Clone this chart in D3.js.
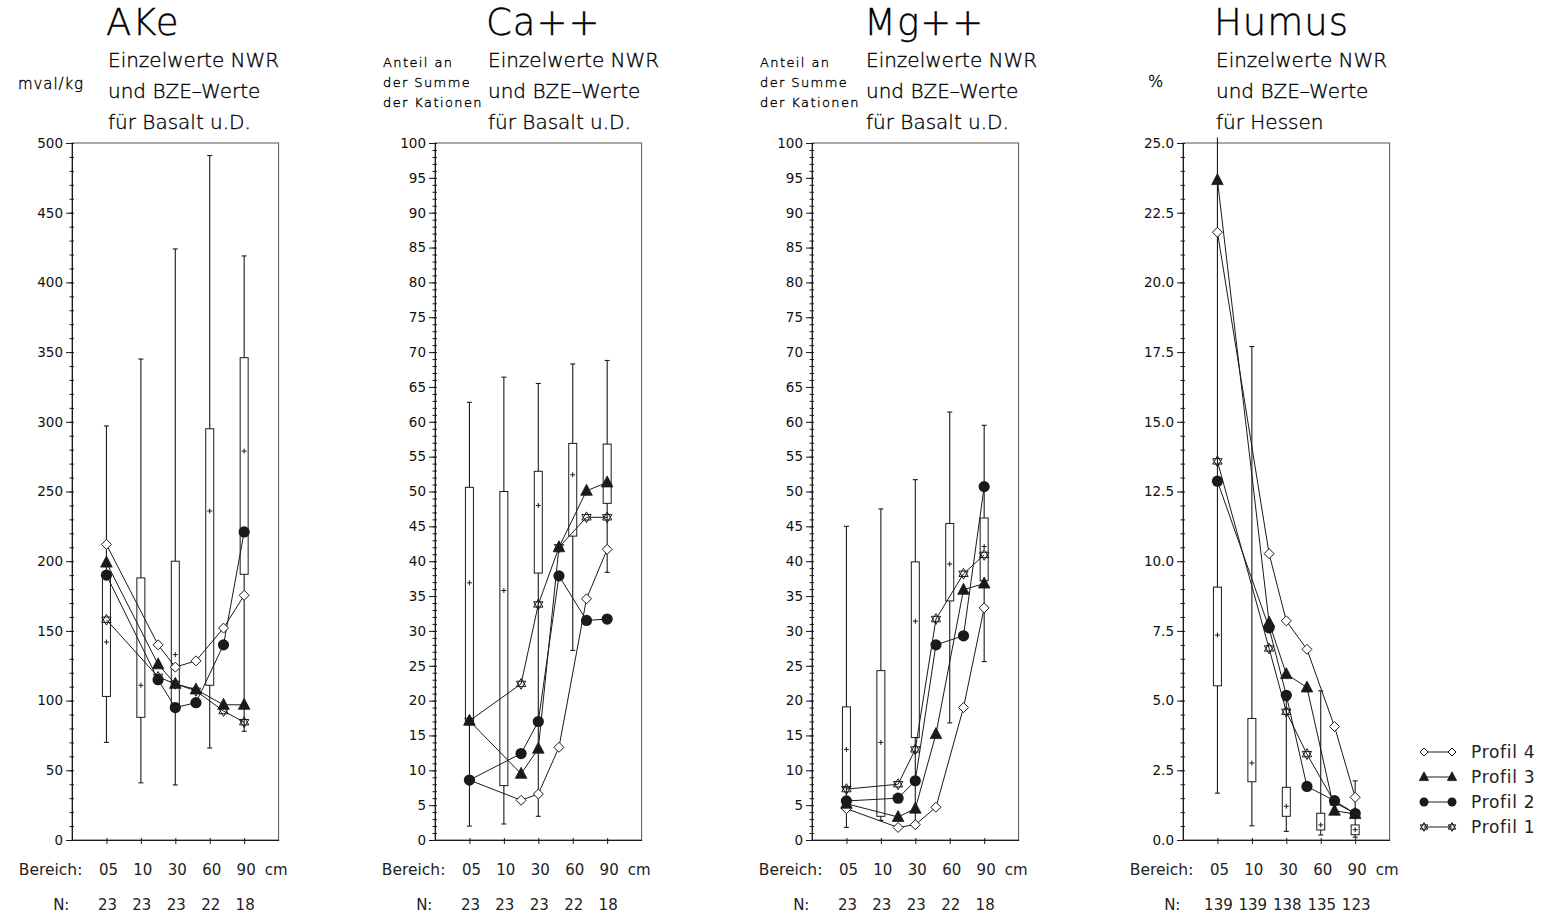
<!DOCTYPE html>
<html><head><meta charset="utf-8">
<script src="https://cdn.jsdelivr.net/npm/d3@7"></script>
<style>
html,body{margin:0;padding:0;background:#fff;}
svg{display:block;}
text{font-family:"DejaVu Sans","Liberation Sans",sans-serif;fill:#111;}
.thin{font-weight:200;fill:#000;stroke:#000;stroke-width:0.35px;}
.reg{font-weight:normal;fill:#222;}
</style></head>
<body>
<svg id="chart" width="1559" height="915"></svg>
<script>
// ---------- DATA ----------
const categories = ["05", "10", "30", "60", "90"];
const categoryPos = [1, 2, 3, 4, 5];
const profilePos = [1, 2.5, 3, 3.6, 4.4, 5];
const profileNames = ["Profil 4", "Profil 3", "Profil 2", "Profil 1"];

// AKe (mval/kg)
const akeLow  = [70, 41, 39.5, 66, 78];
const akeQ1   = [103, 88, 96, 111, 190.6];
const akeMed  = [142, 111, 133, 236, 279];
const akeQ3   = [189, 188, 200, 295, 346];
const akeHigh = [297, 345, 424, 491, 419];
const akeN    = [23, 23, 23, 22, 18];
const akeP4 = [212, 140, 124, 128.5, 152, 175.5];
const akeP3 = [199, 126, 112, 108, 97, 97];
const akeP2 = [190, 115, 95, 98.5, 140, 221];
const akeP1 = [158, 117, 112, 107, 92.5, 84.5];
const akeTicks = [0, 50, 100, 150, 200, 250, 300, 350, 400, 450, 500];

// Ca++ (Anteil an der Summe der Kationen)
const caLow  = [2, 2.3, 3.4, 27.2, 38.4];
const caQ1   = [17, 7.8, 38.3, 43.6, 48.3];
const caMed  = [36.9, 35.8, 48, 52.4, 51];
const caQ3   = [50.6, 50, 52.9, 56.9, 56.8];
const caHigh = [62.8, 66.4, 65.5, 68.3, 68.8];
const caN    = [23, 23, 23, 22, 18];
const caP4 = [8.6, 5.7, 6.6, 13.3, 34.6, 41.7];
const caP3 = [17.1, 9.5, 13.1, 42, 50.1, 51.3];
const caP2 = [8.6, 12.4, 17, 37.9, 31.5, 31.7];
const caP1 = [17.1, 22.4, 33.8, 42, 46.3, 46.3];
const pctTicks = [0, 5, 10, 15, 20, 25, 30, 35, 40, 45, 50, 55, 60, 65, 70, 75, 80, 85, 90, 95, 100];

// Mg++
const mgLow  = [1.8, 2.8, 2, 16.8, 25.6];
const mgQ1   = [7.5, 3.4, 14.7, 34.3, 37.2];
const mgMed  = [13, 14, 31.4, 39.6, 42.1];
const mgQ3   = [19.1, 24.3, 39.9, 45.4, 46.2];
const mgHigh = [45, 47.5, 51.7, 61.4, 59.5];
const mgN    = [23, 23, 23, 22, 18];
const mgP4 = [4.5, 1.8, 2.2, 4.7, 19, 33.3];
const mgP3 = [5.2, 3.3, 4.5, 15.2, 35.9, 36.8];
const mgP2 = [5.6, 6, 8.5, 28, 29.3, 50.7];
const mgP1 = [7.3, 8, 13, 31.7, 38.2, 40.9];

// Humus (%)
const huLow  = [1.68, 0.51, 0.31, 0.18, 0.1];
const huQ1   = [5.53, 2.09, 0.85, 0.36, 0.19];
const huMed  = [7.35, 2.76, 1.21, 0.54, 0.37];
const huQ3   = [9.07, 4.36, 1.89, 0.96, 0.54];
const huHigh = [25.2, 17.7, 5.0, 5.35, 2.12];
const huN    = [139, 139, 138, 135, 123];
const huP4 = [21.8, 10.27, 7.86, 6.84, 4.07, 1.53];
const huP3 = [23.67, 7.8, 5.95, 5.47, 1.05, 0.93];
const huP2 = [12.87, 7.61, 5.19, 1.92, 1.41, 0.95];
const huP1 = [13.58, 6.87, 4.6, 3.08, 1.35, 0.95];
const huTicks = [0, 2.5, 5, 7.5, 10, 12.5, 15, 17.5, 20, 22.5, 25];

const subtitleBasalt = ["Einzelwerte NWR", "und BZE\u2013Werte", "f\u00fcr Basalt u.D."];
const subtitleHessen = ["Einzelwerte NWR", "und BZE\u2013Werte", "f\u00fcr Hessen"];

// ---------- LAYOUT ----------
const panels = [
  {title: "AKe", sub: subtitleBasalt, unit: ["mval/kg"], unitSize: 15, unitSp: 0.9, unitX: 18, unitY: [89],
   left: 72, titleX: 108, max: 500, ticks: akeTicks, minorStep: 10, fmt: d3.format("d"),
   low: akeLow, q1: akeQ1, med: akeMed, q3: akeQ3, high: akeHigh, n: akeN,
   profiles: [akeP4, akeP3, akeP2, akeP1]},
  {title: "Ca++", sub: subtitleBasalt, unit: ["Anteil an", "der Summe", "der Kationen"], unitSize: 13, unitSp: 1.4, unitX: 383, unitY: [67, 87, 107],
   left: 435, titleX: 488, max: 100, ticks: pctTicks, minorStep: 1, fmt: d3.format("d"),
   low: caLow, q1: caQ1, med: caMed, q3: caQ3, high: caHigh, n: caN,
   profiles: [caP4, caP3, caP2, caP1]},
  {title: "Mg++", sub: subtitleBasalt, unit: ["Anteil an", "der Summe", "der Kationen"], unitSize: 13, unitSp: 1.4, unitX: 760, unitY: [67, 87, 107],
   left: 812, titleX: 866, max: 100, ticks: pctTicks, minorStep: 1, fmt: d3.format("d"),
   low: mgLow, q1: mgQ1, med: mgMed, q3: mgQ3, high: mgHigh, n: mgN,
   profiles: [mgP4, mgP3, mgP2, mgP1]},
  {title: "Humus", sub: subtitleHessen, unit: ["%"], unitSize: 16, unitSp: 0, unitX: 1148, unitY: [87],
   left: 1183, titleX: 1216, max: 25, ticks: huTicks, minorStep: 0.5, fmt: d3.format(".1f"),
   low: huLow, q1: huQ1, med: huMed, q3: huQ3, high: huHigh, n: huN,
   profiles: [huP4, huP3, huP2, huP1]}
];
const plotW = 206.6, plotTop = 143, plotBottom = 840;

const svg = d3.select("#chart");
const ink = "#1a1a1a";

// marker symbols
function drawMarker(g, type, x, y, s) {
  s = s || 1;
  if (type === 0) { // open diamond
    g.append("path").attr("d", `M${x},${y-5*s}L${x+5*s},${y}L${x},${y+5*s}L${x-5*s},${y}Z`)
      .attr("fill", "#fff").attr("stroke", ink).attr("stroke-width", 1);
  } else if (type === 1) { // filled triangle
    g.append("path").attr("d", `M${x},${y-6.5*s}L${x+5.8*s},${y+4.5*s}L${x-5.8*s},${y+4.5*s}Z`)
      .attr("fill", ink).attr("stroke", ink).attr("stroke-width", 0.8);
  } else if (type === 2) { // filled circle
    g.append("circle").attr("cx", x).attr("cy", y).attr("r", 5.6*s).attr("fill", ink);
  } else { // star of david, open
    const r = 5.4*s;
    const pts = a => d3.range(3).map(i => {
      const t = (a + i*120) * Math.PI/180;
      return [x + r*Math.sin(t), y - r*Math.cos(t)];
    });
    const tri = p => "M" + p.map(q => q.join(",")).join("L") + "Z";
    g.append("path").attr("d", tri(pts(0)) + tri(pts(60)))
      .attr("fill", "none").attr("stroke", ink).attr("stroke-width", 1);
  }
}

panels.forEach(p => {
  const g = svg.append("g");
  const x = d3.scaleLinear().domain([0, 6]).range([p.left, p.left + plotW]);
  const y = d3.scaleLinear().domain([0, p.max]).range([plotBottom, plotTop]);

  // titles
  g.append("text").attr("class", "thin").attr("x", p.titleX - 2).attr("y", 35).attr("font-size", 37)
    .attr("letter-spacing", 1).text(p.title);
  p.sub.forEach((t, i) => g.append("text").attr("class", "thin").attr("x", p.titleX).attr("y", 67 + i*31)
    .attr("font-size", 20).text(t));
  p.unit.forEach((t, i) => g.append("text").attr("class", "thin").attr("x", p.unitX).attr("y", p.unitY[i])
    .attr("font-size", p.unitSize).attr("letter-spacing", p.unitSp).text(t));

  // frame
  g.append("rect").attr("x", x(0)).attr("y", y(p.max)).attr("width", x(6) - x(0))
    .attr("height", y(0) - y(p.max)).attr("fill", "none").attr("stroke", "#555").attr("stroke-width", 1);

  // y axis minor ticks
  const minor = d3.range(0, p.max + p.minorStep/2, p.minorStep);
  const yMinor = g.append("g").attr("transform", `translate(${x(0)},0)`)
    .call(d3.axisLeft(y).tickValues(minor).tickSize(2.5).tickFormat(""));
  yMinor.select(".domain").remove();
  yMinor.selectAll("line").attr("stroke", ink);
  const yMinor2 = g.append("g").attr("transform", `translate(${x(0)},0)`)
    .call(d3.axisRight(y).tickValues(minor).tickSize(2).tickFormat(""));
  yMinor2.select(".domain").remove();
  yMinor2.selectAll("line").attr("stroke", ink);
  // y axis major
  const yAx = g.append("g").attr("transform", `translate(${x(0)},0)`)
    .call(d3.axisLeft(y).tickValues(p.ticks).tickSize(6).tickSizeOuter(0).tickPadding(3).tickFormat(p.fmt));
  yAx.select(".domain").attr("stroke", ink);
  yAx.selectAll("line").attr("stroke", ink);
  yAx.selectAll("text").attr("font-size", 13.5).attr("fill", "#222")
    .attr("font-family", "DejaVu Sans, sans-serif");

  // x axis ticks
  const xAx = g.append("g").attr("transform", `translate(0,${y(0)})`)
    .call(d3.axisBottom(x).tickValues(categoryPos).tickSize(4).tickSizeOuter(0).tickFormat(""));
  xAx.select(".domain").attr("stroke", ink);
  xAx.selectAll("line").attr("stroke", ink);
  const xAx2 = g.append("g").attr("transform", `translate(0,${y(0)})`)
    .call(d3.axisTop(x).tickValues(categoryPos).tickSize(2).tickFormat(""));
  xAx2.select(".domain").remove();
  xAx2.selectAll("line").attr("stroke", ink);

  // bottom labels
  g.append("text").attr("class", "reg").attr("x", x(1) - 24).attr("y", 875).attr("text-anchor", "end")
    .attr("font-size", 15.5).text("Bereich:");
  categories.forEach((c, i) => g.append("text").attr("class", "reg").attr("x", x(categoryPos[i]) + 2).attr("y", 875)
    .attr("text-anchor", "middle").attr("font-size", 15).text(c));
  g.append("text").attr("class", "reg").attr("x", x(5.93)).attr("y", 875).attr("text-anchor", "middle")
    .attr("font-size", 15).text("cm");
  g.append("text").attr("class", "reg").attr("x", x(1) - 37).attr("y", 910).attr("text-anchor", "end")
    .attr("font-size", 15).text("N:");
  p.n.forEach((v, i) => g.append("text").attr("class", "reg").attr("x", x(categoryPos[i]) + 1).attr("y", 910)
    .attr("text-anchor", "middle").attr("font-size", 15).text(v));

  // box plots
  const bw = 8;
  categoryPos.forEach((c, i) => {
    const cx = x(c);
    const hi = p.high[i];
    g.append("line").attr("x1", cx).attr("x2", cx).attr("y1", y(p.low[i])).attr("y2", y(hi))
      .attr("stroke", ink).attr("stroke-width", 1.1);
    [p.low[i], hi].forEach(v => {
      if (v <= p.max) {
        g.append("line").attr("x1", cx - 2.5).attr("x2", cx + 2.5).attr("y1", y(v)).attr("y2", y(v))
          .attr("stroke", ink).attr("stroke-width", 1.1);
      }
    });
    g.append("rect").attr("x", cx - bw/2).attr("y", y(p.q3[i])).attr("width", bw)
      .attr("height", y(p.q1[i]) - y(p.q3[i])).attr("fill", "#fff").attr("stroke", ink).attr("stroke-width", 1);
    const my = y(p.med[i]);
    g.append("path").attr("d", `M${cx-2.5},${my}H${cx+2.5}M${cx},${my-2.5}V${my+2.5}`)
      .attr("stroke", ink).attr("stroke-width", 1);
  });

  // profile lines
  const line = d3.line().x((d, i) => x(profilePos[i])).y(d => y(d));
  p.profiles.forEach(vals => {
    g.append("path").attr("d", line(vals)).attr("fill", "none")
      .attr("stroke", ink).attr("stroke-width", 1);
  });
  p.profiles.forEach((vals, k) => {
    vals.forEach((v, i) => drawMarker(g, k, x(profilePos[i]), y(v)));
  });
});

// legend
const lg = svg.append("g");
profileNames.forEach((name, k) => {
  const yy = 752 + k * 25;
  lg.append("line").attr("x1", 1424).attr("x2", 1452).attr("y1", yy).attr("y2", yy)
    .attr("stroke", ink).attr("stroke-width", 1);
  drawMarker(lg, k, 1424, yy, 0.8);
  drawMarker(lg, k, 1452, yy, 0.8);
  lg.append("text").attr("class", "reg").attr("x", 1471).attr("y", yy + 6).attr("font-size", 17)
    .attr("letter-spacing", 0.7).text(name);
});
</script>
</body></html>
